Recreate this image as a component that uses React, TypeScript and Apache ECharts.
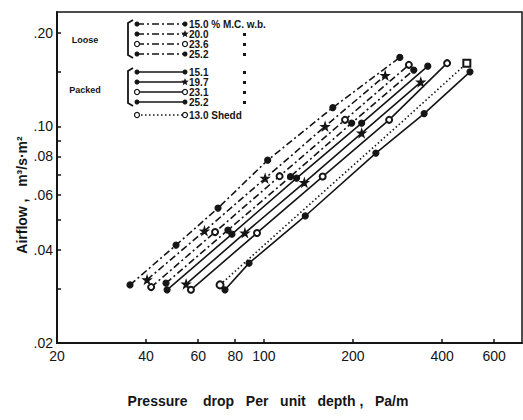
import React, { useEffect, useRef } from 'react';
import * as echarts from 'echarts';

// ---- data (pressure drop Pa/m, airflow m3/s-m2) ----
const loose150X = [35.3, 50.5, 70, 103, 171, 288];
const loose150Y = [0.0308, 0.0414, 0.0545, 0.0778, 0.115, 0.167];
const loose200X = [40.3, 63, 101, 161, 257];
const loose200Y = [0.032, 0.046, 0.068, 0.1, 0.146];
const loose236X = [41.6, 68.4, 113, 188, 309];
const loose236Y = [0.0303, 0.0456, 0.0691, 0.105, 0.158];
const loose252X = [46.7, 75.6, 123, 198, 321];
const loose252Y = [0.0312, 0.0463, 0.0689, 0.1025, 0.152];
const packed151X = [47.1, 78, 129, 214, 358];
const packed151Y = [0.0297, 0.0449, 0.0681, 0.1025, 0.1565];
const packed197X = [54.6, 86.3, 137, 214, 339];
const packed197Y = [0.031, 0.0453, 0.0659, 0.0952, 0.139];
const packed231X = [56.7, 94.8, 158, 265, 416];
const packed231Y = [0.0297, 0.0453, 0.0689, 0.105, 0.16];
const shelledX = [71.1, 115, 185, 300, 485];
const shelledY = [0.0308, 0.0466, 0.0699, 0.1056, 0.16];
const packed252X = [73.9, 89.1, 138, 239, 348, 497];
const packed252Y = [0.0297, 0.0362, 0.0514, 0.082, 0.11, 0.15];

const xTicks = [20, 40, 60, 80, 100, 200, 400, 600];
const yLabels = [0.02, 0.04, 0.06, 0.08, 0.1, 0.2];
const yTicks = [0.02, 0.03, 0.04, 0.05, 0.06, 0.07, 0.08, 0.09, 0.1, 0.15, 0.2];

const legendLoose = ['15.0 % M.C. w.b.', '20.0', '23.6', '25.2'];
const legendPacked = ['15.1', '19.7', '23.1', '25.2'];
const legendShelled = '13.0 Shedd';

const INK = '#151515';
const FONT = '"Liberation Sans", Arial, sans-serif';
const DASHDOT = [7, 3, 2, 3];
const DOTTED = [1.5, 2.5];
const STAR = 'path://M50,0 L61,35 98,35 68,57 79,91 50,70 21,91 32,57 2,35 39,35 Z';

type Def = { name: string; xs: number[]; ys: number[]; dash: any; symbol: string; size: number; endsOnly?: boolean };

const defs: Def[] = [
  { name: 'Loose 15.0', xs: loose150X, ys: loose150Y, dash: DASHDOT, symbol: 'circle', size: 6 },
  { name: 'Loose 20.0', xs: loose200X, ys: loose200Y, dash: DASHDOT, symbol: STAR, size: 8 },
  { name: 'Loose 23.6', xs: loose236X, ys: loose236Y, dash: DASHDOT, symbol: 'emptyCircle', size: 6 },
  { name: 'Loose 25.2', xs: loose252X, ys: loose252Y, dash: DASHDOT, symbol: 'circle', size: 6 },
  { name: 'Packed 15.1', xs: packed151X, ys: packed151Y, dash: 'solid', symbol: 'circle', size: 6 },
  { name: 'Packed 19.7', xs: packed197X, ys: packed197Y, dash: 'solid', symbol: STAR, size: 8 },
  { name: 'Packed 23.1', xs: packed231X, ys: packed231Y, dash: 'solid', symbol: 'emptyCircle', size: 6 },
  { name: 'Shelled 13.0 Shedd', xs: shelledX, ys: shelledY, dash: DOTTED, symbol: 'emptyRect', size: 7, endsOnly: true },
  { name: 'Packed 25.2', xs: packed252X, ys: packed252Y, dash: 'solid', symbol: 'circle', size: 6 },
];

function marker(kind: string, x: number, y: number): any {
  if (kind === 'open') {
    return { type: 'circle', shape: { cx: x, cy: y, r: 2.5 }, style: { fill: '#fff', stroke: INK, lineWidth: 1.2 } };
  }
  if (kind === 'star') {
    const pts: number[][] = [];
    for (let i = 0; i < 10; i++) {
      const r = i % 2 === 0 ? 4 : 1.7;
      const a = -Math.PI / 2 + (i * Math.PI) / 5;
      pts.push([x + r * Math.cos(a), y + r * Math.sin(a)]);
    }
    return { type: 'polygon', shape: { points: pts }, style: { fill: INK } };
  }
  return { type: 'circle', shape: { cx: x, cy: y, r: 2.5 }, style: { fill: INK } };
}

function legendRow(y: number, dash: any, kind: string, label: string, ditto: boolean): any[] {
  const els: any[] = [
    { type: 'line', shape: { x1: 137, y1: y, x2: 185, y2: y }, style: { stroke: INK, lineWidth: 1.5, lineDash: dash } },
    marker(kind === 'star' ? 'dot' : kind, 137, y),
    marker(kind, 185, y),
    { type: 'text', x: 189, y, style: { text: label, font: `bold 10px ${FONT}`, lineHeight: 9, fill: INK, verticalAlign: 'middle' } },
  ];
  if (ditto) {
    els.push({ type: 'rect', shape: { x: 243, y: y - 1, width: 3, height: 3 }, style: { fill: INK } });
  }
  return els;
}

function bracket(y1: number, y2: number): any {
  return {
    type: 'polyline',
    shape: { points: [[133, y1], [128, y1 + 3], [128, y2 - 3], [133, y2]] },
    style: { stroke: INK, lineWidth: 1.8, fill: 'none' },
  };
}

export default function App() {
  const ref = useRef<HTMLDivElement>(null);
  useEffect(() => {
    if (!ref.current) return;
    const chart = echarts.init(ref.current, undefined, { renderer: 'svg' });
    const kinds = ['dot', 'star', 'open', 'dot'];
    const looseY = [24, 34, 44, 54];
    const packedY = [72, 82, 92, 102];
    const graphic: any[] = [];
    legendLoose.forEach((t, i) => graphic.push(...legendRow(looseY[i], DASHDOT, kinds[i], t, i > 0)));
    legendPacked.forEach((t, i) => graphic.push(...legendRow(packedY[i], null, kinds[i], t, true)));
    graphic.push(...legendRow(115, DOTTED, 'open', legendShelled, false));
    graphic.push(bracket(20, 58), bracket(68, 106));
    graphic.push({ type: 'text', x: 85, y: 40, style: { text: 'Loose', font: `bold 9px ${FONT}`, fill: INK, align: 'center', verticalAlign: 'middle' } });
    graphic.push({ type: 'text', x: 85, y: 90, style: { text: 'Packed', font: `bold 9px ${FONT}`, fill: INK, align: 'center', verticalAlign: 'middle' } });
    graphic.push({ type: 'text', x: 268, y: 401, style: { text: 'Pressure    drop   Per   unit   depth ,   Pa/m', font: `bold 14px ${FONT}`, fill: INK, align: 'center', verticalAlign: 'middle' } });
    graphic.push({ type: 'text', x: 22, y: 195, rotation: Math.PI / 2, style: { text: 'Airflow ,   m³/s·m²', font: `bold 14px ${FONT}`, fill: INK, align: 'center', verticalAlign: 'middle' } });

    chart.setOption({
      animation: false,
      backgroundColor: '#fff',
      grid: { left: 57, right: 1, top: 12, bottom: 77, show: true, borderColor: INK, borderWidth: 1.5, containLabel: false },
      xAxis: {
        type: 'log', logBase: 10, min: 20, max: 745,
        axisLine: { lineStyle: { color: INK, width: 2 } },
        axisTick: { inside: true, length: 4, customValues: xTicks, lineStyle: { color: INK, width: 1.5 } },
        axisLabel: { customValues: xTicks, color: INK, fontSize: 14, fontFamily: FONT, margin: 6, formatter: (v: number) => String(Math.round(v)) },
        splitLine: { show: false }, minorTick: { show: false },
      },
      yAxis: {
        type: 'log', logBase: 10, min: 0.02, max: 0.234,
        axisLine: { lineStyle: { color: INK, width: 2 } },
        axisTick: { inside: true, length: 4, customValues: yTicks, lineStyle: { color: INK, width: 1.5 } },
        axisLabel: {
          customValues: yLabels, color: INK, fontSize: 14, fontFamily: FONT, margin: 4,
          formatter: (v: number) => '.' + String(Math.round(v * 100)).padStart(2, '0'),
        },
        splitLine: { show: false }, minorTick: { show: false },
      },
      graphic,
      series: defs.map((d) => ({
        type: 'line', name: d.name,
        data: d.xs.map((x, i) => {
          if (!d.endsOnly) return [x, d.ys[i]];
          const last = i === d.xs.length - 1;
          const first = i === 0;
          return {
            value: [x, d.ys[i]],
            symbol: first ? 'emptyCircle' : last ? d.symbol : 'none',
          };
        }),
        symbol: d.symbol, symbolSize: d.size, showSymbol: true, showAllSymbol: true,
        lineStyle: { color: INK, width: 1.6, type: d.dash },
        itemStyle: { color: INK, borderColor: INK, borderWidth: 1.2 },
        emphasis: { disabled: true }, silent: true,
      })),
    });
    return () => chart.dispose();
  }, []);
  return <div ref={ref} style={{ position: 'absolute', left: 0, top: 0, width: 523, height: 420 }} />;
}
